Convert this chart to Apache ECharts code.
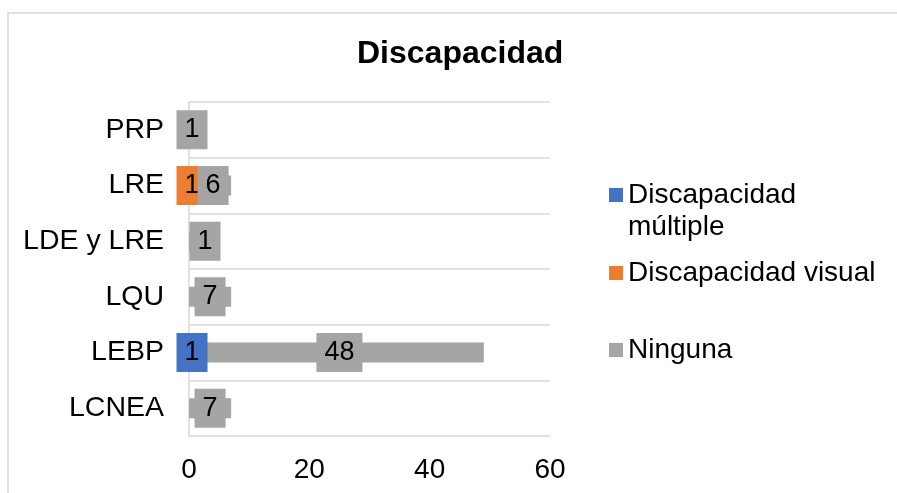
<!DOCTYPE html>
<html>
<head>
<meta charset="utf-8">
<script src="https://cdn.jsdelivr.net/npm/echarts@6/dist/echarts.min.js"></script>
<style>
html,body{margin:0;padding:0;background:#fff;}
#chart{width:897px;height:493px;}
</style>
</head>
<body>
<div id="chart"></div>
<script>
const categories = ['LCNEA', 'LEBP', 'LQU', 'LDE y LRE', 'LRE', 'PRP'];
const seriesNames = ['Discapacidad múltiple', 'Discapacidad visual', 'Ninguna'];
const multiple = [0, 1, 0, 0, 0, 0];
const visual = [0, 0, 0, 0, 1, 0];
const ninguna = [7, 48, 7, 1, 6, 1];
const xMin = 0, xMax = 60, xInterval = 20;

const colors = ['#4472C4', '#ED7D31', '#A5A5A5'];
const FONT = "'Liberation Sans', Arial, sans-serif";

function toData(arr, offsets) {
  return arr.map(function (v, i) {
    if (!v) return '-';
    if (offsets && offsets[i]) return { value: v, label: { offset: offsets[i] } };
    return v;
  });
}

function mkSeries(name, arr, color, offsets) {
  return {
    name: name,
    type: 'bar',
    stack: 'total',
    barWidth: 20,
    itemStyle: { color: color },
    label: {
      show: true,
      position: 'inside',
      color: '#000',
      fontSize: 27,
      fontFamily: FONT,
      lineHeight: 27,
      backgroundColor: color,
      padding: [6, 8, 6, 8]
    },
    data: toData(arr, offsets)
  };
}

const chart = echarts.init(document.getElementById('chart'));
const legendBase = {
  orient: 'vertical',
  left: 609,
  padding: 0,
  itemWidth: 14,
  itemHeight: 14,
  icon: 'rect',
  selectedMode: false,
  textStyle: { fontSize: 28, fontFamily: FONT, color: '#000', lineHeight: 32 }
};
chart.setOption({
  animation: false,
  backgroundColor: '#fff',
  title: {
    text: 'Discapacidad',
    left: 357,
    top: 36,
    padding: 0,
    textStyle: { fontSize: 32, fontWeight: 'bold', fontFamily: FONT, color: '#000', lineHeight: 36 }
  },
  graphic: [{
    type: 'rect',
    shape: { x: 8, y: 13, width: 900, height: 500 },
    style: { fill: 'none', stroke: '#d9d9d9', lineWidth: 1.5 },
    silent: true
  }],
  legend: [
    Object.assign({}, legendBase, {
      top: 147,
      data: [seriesNames[0]],
      formatter: function () { return '\nDiscapacidad\nmúltiple'; }
    }),
    Object.assign({}, legendBase, { top: 257, data: [seriesNames[1]] }),
    Object.assign({}, legendBase, { top: 334, data: [seriesNames[2]] })
  ],
  grid: { left: 189, right: 347, top: 102, bottom: 57, containLabel: false },
  xAxis: {
    type: 'value',
    min: xMin,
    max: xMax,
    interval: xInterval,
    axisLine: { show: false },
    axisTick: { show: false },
    splitLine: { show: false },
    axisLabel: { fontSize: 28, fontFamily: FONT, color: '#000', margin: 20 }
  },
  yAxis: {
    type: 'category',
    data: categories,
    axisLine: { show: true, lineStyle: { color: '#d9d9d9', width: 1.5 } },
    axisTick: { show: false },
    splitLine: { show: true, lineStyle: { color: '#d9d9d9', width: 1.5 } },
    axisLabel: { fontSize: 28.5, fontFamily: FONT, color: '#000', margin: 25 }
  },
  series: [
    mkSeries(seriesNames[0], multiple, colors[0]),
    mkSeries(seriesNames[1], visual, colors[1]),
    mkSeries(seriesNames[2], ninguna, colors[2], { 3: [13, 0] })
  ]
});
</script>
</body>
</html>
